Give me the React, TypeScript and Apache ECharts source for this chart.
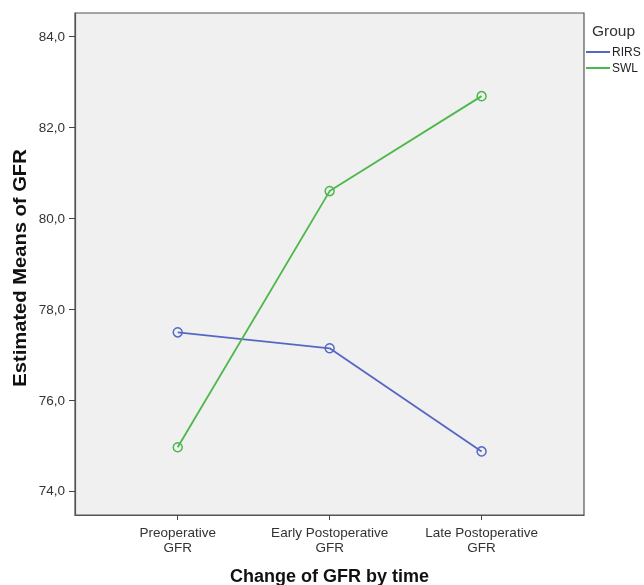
import React, { useEffect, useRef } from "react";
import * as echarts from "echarts";

const categories = ["Preoperative\nGFR", "Early Postoperative\nGFR", "Late Postoperative\nGFR"];
const categoryPositions = [1, 2, 3];
const rirsValues = [77.49, 77.14, 74.87];
const swlValues = [74.96, 80.6, 82.69];
const yTicks = [74, 76, 78, 80, 82, 84];
const seriesNames = ["RIRS", "SWL"];
const seriesColors = ["#5567c4", "#4cb84c"];

const FONT = "'Liberation Sans', Arial, sans-serif";

export default function App() {
  const ref = useRef<HTMLDivElement>(null);
  useEffect(() => {
    document.body.style.margin = "0";
    const chart = echarts.init(ref.current!, null, { renderer: "svg" });
    const mk = (name: string, vals: number[], color: string) => ({
      name,
      type: "line",
      data: vals.map((v, i) => [categoryPositions[i], v]),
      symbol: "circle",
      symbolSize: 9,
      lineStyle: { color, width: 1.8 },
      itemStyle: { color: "rgba(0,0,0,0)", borderColor: color, borderWidth: 1.5 },
      emphasis: { disabled: true },
    });
    chart.setOption({
      animation: false,
      textStyle: { fontFamily: FONT },
      grid: {
        left: 75,
        right: 60,
        top: 13,
        bottom: 70,
        outerBoundsMode: "none",
        containLabel: false,
        show: true,
        backgroundColor: "#f0f0f0",
        borderColor: "#555",
        borderWidth: 1.2,
      },
      xAxis: {
        type: "value",
        min: 0.324,
        max: 3.674,
        name: "Change of GFR by time",
        nameLocation: "middle",
        nameGap: 52,
        nameTextStyle: { fontSize: 18, fontWeight: "bold", color: "#111", fontFamily: FONT },
        splitLine: { show: false },
        axisLine: { show: true, lineStyle: { color: "#555", width: 1.2 } },
        axisTick: { show: true, length: 5, customValues: categoryPositions, lineStyle: { color: "#444" } },
        axisLabel: {
          customValues: categoryPositions,
          formatter: (v: number) => categories[Math.round(v) - 1] ?? "",
          fontSize: 13.5,
          lineHeight: 15,
          color: "#333",
          margin: 10,
          fontFamily: FONT,
        },
      },
      yAxis: {
        type: "value",
        min: 73.47,
        max: 84.52,
        splitLine: { show: false },
        axisLine: { show: true, lineStyle: { color: "#555", width: 1.2 } },
        axisTick: { show: true, length: 6, customValues: yTicks, lineStyle: { color: "#444" } },
        axisLabel: {
          customValues: yTicks,
          formatter: (v: number) => v.toFixed(1).replace(".", ","),
          fontSize: 13.5,
          color: "#333",
          margin: 10,
          fontFamily: FONT,
        },
      },
      legend: {
        orient: "vertical",
        left: 586,
        top: 46,
        itemWidth: 24,
        itemHeight: 2,
        itemGap: 4,
        padding: 0,
        selectedMode: false,
        textStyle: { fontSize: 12, color: "#222", fontFamily: FONT, padding: [0, 0, 0, -3] },
        data: seriesNames.map((n, i) => ({
          name: n,
          icon: "rect",
          itemStyle: { color: seriesColors[i], borderWidth: 0 },
        })),
      },
      graphic: [
        {
          type: "text",
          left: 592,
          top: 22,
          style: { text: "Group", fontSize: 15.5, fill: "#333", fontFamily: FONT },
        },
        {
          type: "text",
          x: 20,
          y: 268,
          rotation: Math.PI / 2,
          scaleX: 1.12,
          style: {
            text: "Estimated Means of GFR",
            fontSize: 18,
            fontWeight: "bold",
            fill: "#111",
            fontFamily: FONT,
            align: "center",
            verticalAlign: "middle",
          },
        },
      ],
      series: [
        mk(seriesNames[0], rirsValues, seriesColors[0]),
        mk(seriesNames[1], swlValues, seriesColors[1]),
      ],
    });
    return () => chart.dispose();
  }, []);
  return <div ref={ref} style={{ position: "fixed", left: 0, top: 0, width: 644, height: 585 }} />;
}
